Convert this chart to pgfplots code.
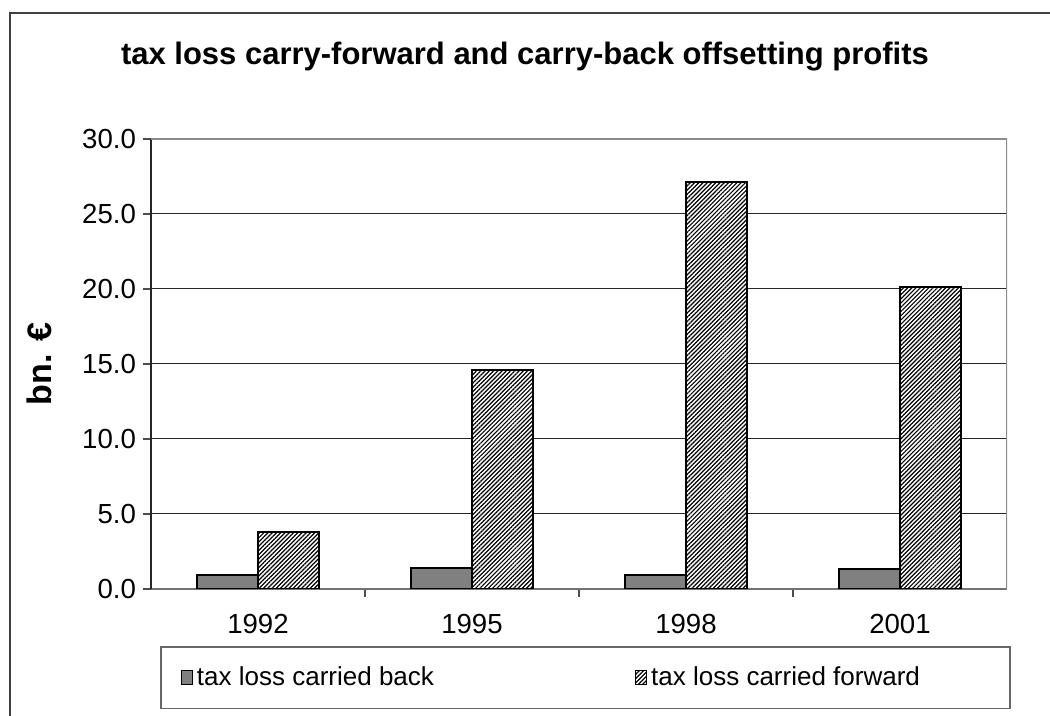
\documentclass[border=0pt]{standalone}
\usepackage{pgfplots}
\pgfplotsset{compat=1.18}
\usepackage{fontspec}
\setmainfont{Liberation Sans}
\usetikzlibrary{patterns.meta}

\pgfplotsset{
  /pgfplots/ybar legend/.style={
    /pgfplots/legend image code/.code={%
      \draw[##1,/tikz/.cd,line width=0.6pt] (0pt,-3.5pt) rectangle (5.5pt,3.5pt);}},
}

\begin{document}
\begin{tikzpicture}
\useasboundingbox (0,0) rectangle (525pt,358pt);
% outer chart frame
\draw[black!75, line width=0.8pt] (5pt,0) -- (5pt,351.5pt) -- (525pt,351.5pt);
\node[font=\fontsize{15.5}{18}\selectfont\bfseries] at (262.5pt,329.5pt)
  {tax loss carry-forward and carry-back offsetting profits};

\begin{axis}[
  at={(75.5pt,63.5pt)}, anchor=south west,
  scale only axis, width=428pt, height=225pt,
  ymin=0, ymax=30, xmin=-0.5, xmax=3.5,
  ybar=0pt, bar width=30.5pt,
  axis lines*=left,
  y axis line style={black!85, line width=0.8pt},
  x axis line style={black!55, line width=0.8pt},
  tick align=outside,
  major tick length=4pt,
  tick style={black!70, line width=0.6pt},
  ytick={0,5,...,30},
  xtick={0.5,1.5,2.5}, xticklabels={,,},
  extra x ticks={0,1,2,3},
  extra x tick labels={1992,1995,1998,2001},
  extra x tick style={major tick length=0pt},
  xticklabel style={yshift=-9pt},
  ymajorgrids,
  major grid style={black!85, line width=0.5pt},
  ticklabel style={font=\fontsize{13.8}{16}\selectfont},
  /pgf/number format/.cd, fixed, zerofill, precision=1, assume math mode=true,
  /pgfplots/.cd,
  ylabel={bn. €},
  every axis y label/.style={at={(axis description cs:-0.13,0.5)}, rotate=90,
    anchor=center, font=\fontsize{17}{19}\selectfont\bfseries},
  legend columns=2,
  legend cell align=left,
  legend style={at={(axis description cs:0.0105,-0.1267)}, anchor=north west,
    draw=black!60, line width=0.8pt, font=\fontsize{13}{15}\selectfont,
    inner xsep=10pt, inner ysep=8pt},
]
\addplot[fill=black!50, draw=black, line width=1pt] coordinates {
  (0,0.9) (1,1.4) (2,0.9) (3,1.3)
};
\addlegendentry{\makebox[217pt][l]{tax loss carried back}}
\addplot[fill=white, draw=black, line width=1pt,
  postaction={pattern color=black, pattern={Lines[angle=45,distance=1.5pt,line width=0.6pt]}}]
  coordinates {
  (0,3.8) (1,14.6) (2,27.1) (3,20.1)
};
\addlegendentry{\makebox[167.5pt][l]{tax loss carried forward}}
\draw[black!45, line width=1pt] (rel axis cs:0,1) -- (rel axis cs:1,1) -- (rel axis cs:1,0);
\end{axis}
\end{tikzpicture}
\end{document}
